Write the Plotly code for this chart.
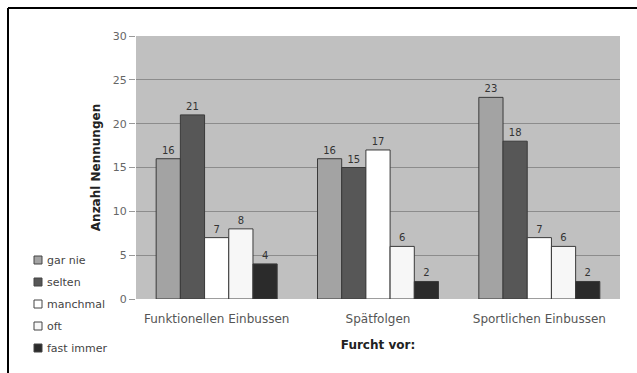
import plotly.graph_objects as go

# Kategorien und Nennungen je Antwort
categories = ["Funktionellen Einbussen", "Spätfolgen", "Sportlichen Einbussen"]
gar_nie = [16, 16, 23]
selten = [21, 15, 18]
manchmal = [7, 17, 7]
oft = [8, 6, 6]
fast_immer = [4, 2, 2]

series = [
    ("gar nie", gar_nie, "#a3a3a3"),
    ("selten", selten, "#575757"),
    ("manchmal", manchmal, "#ffffff"),
    ("oft", oft, "#f7f7f7"),
    ("fast immer", fast_immer, "#2b2b2b"),
]

FONT = "DejaVu Sans"
W, H = 637, 373
ML, MR, MT, MB = 136, 17, 36, 74
PW, PH = W - ML - MR, H - MT - MB


def px_x(x):
    return (x - ML) / PW


def px_y(y):
    return (H - MB - y) / PH


fig = go.Figure()
for name, vals, color in series:
    fig.add_trace(go.Bar(
        name=name,
        x=categories,
        y=vals,
        marker=dict(color=color, line=dict(color="#3a3a3a", width=1)),
        text=[str(v) for v in vals],
        textposition="outside",
        textfont=dict(size=10, color="#333333", family=FONT),
        cliponaxis=False,
        showlegend=False,
    ))

# Legende links unten: kleine Quadrate mit Beschriftung
shapes = []
annotations = []
for i, (name, vals, color) in enumerate(series):
    cy = 260 + i * 22
    shapes.append(dict(
        type="rect", xref="paper", yref="paper",
        x0=px_x(34), x1=px_x(42), y0=px_y(cy + 4), y1=px_y(cy - 4),
        fillcolor=color, line=dict(color="#444444", width=1),
    ))
    annotations.append(dict(
        text=name, xref="paper", yref="paper",
        x=px_x(45), y=px_y(cy), xanchor="left", yanchor="middle",
        showarrow=False, font=dict(size=11, color="#444444", family=FONT),
    ))

# Rahmenlinien oben und links
shapes += [
    dict(type="line", xref="paper", yref="paper",
         x0=px_x(8), x1=px_x(W + 2), y0=px_y(8), y1=px_y(8),
         line=dict(color="#000000", width=2)),
    dict(type="line", xref="paper", yref="paper",
         x0=px_x(8), x1=px_x(8), y0=px_y(8), y1=px_y(H + 2),
         line=dict(color="#000000", width=2)),
]

fig.update_layout(
    width=W,
    height=H,
    margin=dict(l=ML, r=MR, t=MT, b=MB, pad=0),
    paper_bgcolor="#ffffff",
    plot_bgcolor="#c0c0c0",
    barmode="group",
    bargap=0.25,
    bargroupgap=0,
    font=dict(family=FONT, color="#555555"),
    showlegend=False,
    xaxis=dict(
        showgrid=False,
        showline=False,
        ticks="",
        ticklabelstandoff=11,
        tickfont=dict(size=12, color="#555555"),
        title=dict(text="<b>Furcht vor:</b>", font=dict(size=12, color="#222222"), standoff=15),
    ),
    yaxis=dict(
        range=[0, 30],
        tickvals=[0, 5, 10, 15, 20, 25, 30],
        showgrid=True,
        gridcolor="#8c8c8c",
        gridwidth=1,
        zeroline=False,
        ticks="outside",
        ticklen=6,
        tickcolor="#999999",
        tickfont=dict(size=11, color="#666666"),
        title=dict(text="<b>Anzahl Nennungen</b>", font=dict(size=12, color="#222222"), standoff=9),
    ),
    shapes=shapes,
    annotations=annotations,
)

fig.write_html("out.html")
